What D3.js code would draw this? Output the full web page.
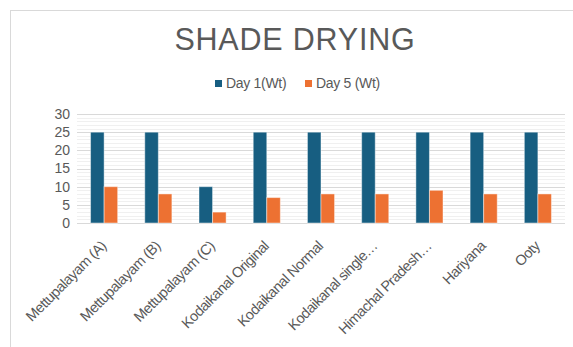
<!DOCTYPE html>
<html><head><meta charset="utf-8">
<script src="https://cdn.jsdelivr.net/npm/d3@7"></script>
<style>body{margin:0;background:#fff}svg{display:block;font-family:"Liberation Sans",Arial,sans-serif}</style>
</head><body><svg id="c" width="573" height="347"></svg>
<script>
const categories=["Mettupalayam (A)","Mettupalayam (B)","Mettupalayam (C)","Kodaikanal Original","Kodaikanal Normal","Kodaikanal single…","Himachal Pradesh…","Hariyana","Ooty"];
const seriesNames=["Day 1(Wt)","Day 5 (Wt)"];
const day1=[25,25,10,25,25,25,25,25,25];
const day5=[10,8,3,7,8,8,9,8,8];
const yTicks=[0,5,10,15,20,25,30];
const colors=["#175e81","#ed7132"];

const svg=d3.select("#c");
svg.append("rect").attr("x",10.5).attr("y",10.5).attr("width",600).attr("height",400).attr("fill","none").attr("stroke","#d9d9d9");
const m={l:77,r:565,t:114,b:223};
const x=d3.scaleBand().domain(categories).range([m.l,m.r]).paddingInner(0.5).paddingOuter(0.25);
const x1=d3.scaleBand().domain([0,1]).range([0,x.bandwidth()]);
const y=d3.scaleLinear().domain([0,30]).range([m.b,m.t]);

const g=svg.append("g");
g.selectAll("line.minor").data(d3.range(0,31)).join("line")
 .attr("x1",m.l).attr("x2",m.r).attr("y1",d=>Math.round(y(d))+0.5).attr("y2",d=>Math.round(y(d))+0.5)
 .attr("stroke",d=>d%5===0?"#d9d9d9":"#f0f0f0").attr("stroke-width",1);

const yAxis=d3.axisLeft(y).tickValues(yTicks).tickSize(0).tickPadding(6);
const ya=svg.append("g").attr("transform",`translate(${m.l-1},0)`).call(yAxis);
ya.select(".domain").remove();
ya.selectAll("text").attr("fill","#595959").attr("font-size",14).attr("font-family","Liberation Sans, Arial");

const series=[day1,day5];
series.forEach((arr,si)=>{
  svg.append("g").selectAll("rect").data(arr).join("rect")
   .attr("x",(d,i)=>x(categories[i])+x1(si))
   .attr("width",x1.bandwidth())
   .attr("y",d=>y(d)).attr("height",d=>y(0)-y(d))
   .attr("fill",colors[si]).attr("stroke","rgba(255,255,255,0.45)").attr("stroke-width",1);
});

const xAxis=d3.axisBottom(x).tickSize(0).tickPadding(0);
const xa=svg.append("g").attr("transform",`translate(0,${m.b})`).call(xAxis);
xa.select(".domain").remove();
xa.selectAll("text").attr("fill","#595959").attr("font-size",14.5).attr("letter-spacing","-0.5")
 .attr("text-anchor","end").attr("dy",0).attr("transform","translate(3,24) rotate(-45)");

svg.append("text").attr("x",295).attr("y",50).attr("text-anchor","middle").attr("font-size",30.5).attr("letter-spacing","0.8").attr("fill","#595959").text("SHADE DRYING");

const leg=svg.append("g").attr("font-size",14).attr("fill","#595959");
const legX=[215,305];
seriesNames.forEach((n,i)=>{
  leg.append("rect").attr("x",legX[i]).attr("y",80).attr("width",7).attr("height",7).attr("fill",colors[i]);
  leg.append("text").attr("x",legX[i]+11).attr("y",88).attr("letter-spacing","-0.3").text(n);
});
</script></body></html>
